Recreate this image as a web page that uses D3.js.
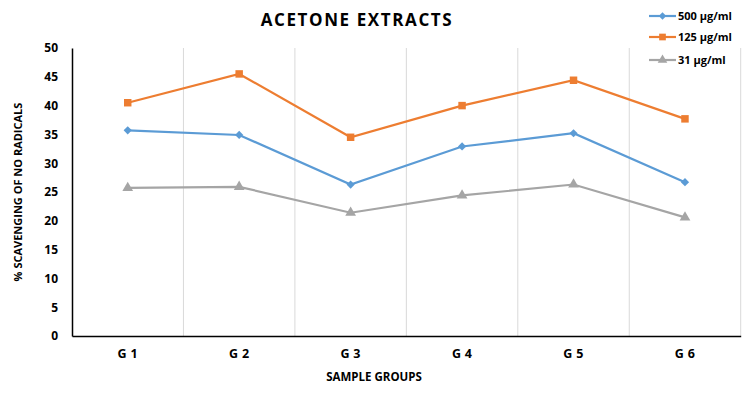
<!DOCTYPE html>
<html>
<head>
<meta charset="utf-8">
<title>Acetone extracts</title>
<script src="https://d3js.org/d3.v7.min.js"></script>
<style>
  body { margin: 0; background: #fff; }
  text { font-family: "Open Sans", "Liberation Sans", sans-serif; font-weight: bold; fill: #000; }
</style>
</head>
<body>
<svg width="747" height="393"></svg>
<script>
var groups = ["G1", "G2", "G3", "G4", "G5", "G6"];
var s500 = [35.7, 34.9, 26.3, 32.9, 35.2, 26.7];
var s125 = [40.5, 45.5, 34.5, 40.0, 44.4, 37.7];
var s31 = [25.7, 25.9, 21.4, 24.4, 26.3, 20.6];
var yTicks = [0, 5, 10, 15, 20, 25, 30, 35, 40, 45, 50];

// diamond = square turned 45 degrees, like the spreadsheet marker
var series = [
  { name: "500 µg/ml", values: s500, color: "#5b9bd5", marker: d3.symbolSquare, size: 34, rot: 45 },
  { name: "125 µg/ml", values: s125, color: "#ed7d31", marker: d3.symbolSquare, size: 56, rot: 0 },
  { name: "31 µg/ml", values: s31, color: "#a5a5a5", marker: d3.symbolTriangle, size: 50, rot: 0 }
];

var svg = d3.select("svg");
var plotLeft = 72, plotRight = 740.7, plotTop = 48, plotBottom = 336;

var x = d3.scaleBand().domain(groups).range([plotLeft, plotRight]);
var y = d3.scaleLinear().domain([0, 50]).range([plotBottom, plotTop]);

// vertical gridlines between groups
svg.append("g").selectAll("line")
  .data(groups)
  .enter().append("line")
  .attr("x1", function(d) { return x(d) + x.bandwidth(); })
  .attr("x2", function(d) { return x(d) + x.bandwidth(); })
  .attr("y1", plotTop)
  .attr("y2", plotBottom)
  .attr("stroke", "#d9d9d9")
  .attr("stroke-width", 1);

// y axis
var yAxis = svg.append("g")
  .attr("transform", "translate(" + plotLeft + ",0)")
  .call(d3.axisLeft(y).tickValues(yTicks).tickSize(0).tickPadding(14));
yAxis.select(".domain").attr("stroke", "#000").attr("stroke-width", 1.5);
yAxis.selectAll("text").style("font-size", "12px");

// x axis
var xAxis = svg.append("g")
  .attr("transform", "translate(0," + plotBottom + ")")
  .call(d3.axisBottom(x).tickSize(0).tickPadding(13).tickFormat(function(d) { return d.split("").join(" "); }));
xAxis.select(".domain").attr("stroke", "#000").attr("stroke-width", 1.5);
xAxis.selectAll("text").style("font-size", "12.5px").style("letter-spacing", "0.3px");

// lines and markers
var line = d3.line()
  .x(function(d, i) { return x(groups[i]) + x.bandwidth() / 2; })
  .y(function(d) { return y(d); });

series.forEach(function(s) {
  svg.append("path")
    .datum(s.values)
    .attr("fill", "none")
    .attr("stroke", s.color)
    .attr("stroke-width", 2.2)
    .attr("d", line);
  svg.append("g").selectAll("path")
    .data(s.values)
    .enter().append("path")
    .attr("transform", function(d, i) {
      return "translate(" + (x(groups[i]) + x.bandwidth() / 2) + "," + y(d) + ") rotate(" + s.rot + ")";
    })
    .attr("d", d3.symbol().type(s.marker).size(s.size))
    .attr("fill", s.color);
});

// title
svg.append("text")
  .attr("x", 357)
  .attr("y", 26)
  .attr("text-anchor", "middle")
  .style("font-size", "17px")
  .style("letter-spacing", "1.6px")
  .text("ACETONE EXTRACTS");

// axis titles
svg.append("text")
  .attr("transform", "translate(22,192) rotate(-90)")
  .attr("text-anchor", "middle")
  .style("font-size", "11px")
  .text("% SCAVENGING OF NO RADICALS");

svg.append("text")
  .attr("x", 374)
  .attr("y", 381)
  .attr("text-anchor", "middle")
  .style("font-size", "11.5px")
  .text("SAMPLE GROUPS");

// legend
var legend = svg.append("g").selectAll("g")
  .data(series)
  .enter().append("g")
  .attr("transform", function(d, i) { return "translate(649," + [16, 37, 60][i] + ")"; });
legend.append("line")
  .attr("x1", 0).attr("x2", 27)
  .attr("stroke", function(d) { return d.color; })
  .attr("stroke-width", 2.2);
legend.append("path")
  .attr("transform", function(d) { return "translate(13.5,0) rotate(" + d.rot + ")"; })
  .attr("d", function(d) { return d3.symbol().type(d.marker).size(d.size * 0.8)(); })
  .attr("fill", function(d) { return d.color; });
legend.append("text")
  .attr("x", 29)
  .attr("dy", "0.35em")
  .style("font-size", "11px")
  .text(function(d) { return d.name; });
</script>
</body>
</html>
